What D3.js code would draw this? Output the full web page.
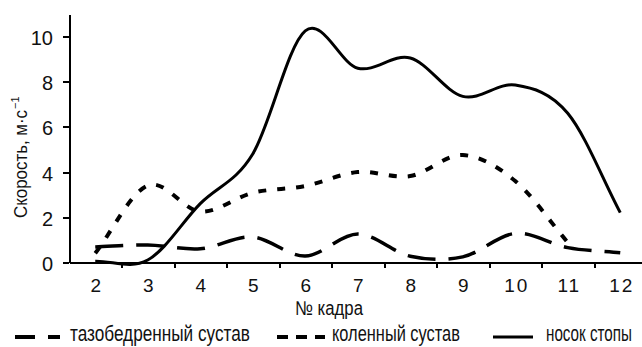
<!DOCTYPE html>
<meta charset="utf-8">
<style>
body {
  margin: 0;
  background-color: #fff;
}

.axis path, .axis line {
  stroke: #000;
  stroke-width: 2;
  shape-rendering: crispEdges;
}

.tick text {
  font: 400 20px "Liberation Sans", Arial, sans-serif;
  fill: #111;
}

.label {
  font-family: "Liberation Sans Narrow", "Liberation Sans", Arial, sans-serif;
  fill: #111;
}

.series {
  fill: none;
  stroke: #000;
}
</style>
<body>
<div id="chart"></div>
<script src="https://d3js.org/d3.v7.min.js"></script>
<script>

// frame numbers (x categories)
var frames = [2, 3, 4, 5, 6, 7, 8, 9, 10, 11, 12];
var yTicks = [0, 2, 4, 6, 8, 10];

// speed, m/s
var hip  = [0.68, 0.77, 0.6, 1.12, 0.28, 1.25, 0.27, 0.24, 1.28, 0.65, 0.42];
var knee = [0.4, 3.4, 2.25, 3.08, 3.38, 4.0, 3.82, 4.75, 3.6, 0.88];
var toe  = [0.05, 0.1, 2.6, 4.8, 10.25, 8.6, 9.05, 7.35, 7.85, 6.6, 2.2];

var seriesNames = ["тазобедренный сустав", "коленный сустав", "носок стопы"];

var width = 642,
    height = 347;

var svg = d3.select("#chart")
    .append("svg")
    .attr("width", width)
    .attr("height", height);

// bands are 52.5px wide, the last one runs off the picture
var x = d3.scaleLinear()
    .domain([1.5, 12.5])
    .range([69, 646.5]);

var y = d3.scaleLinear()
    .domain([0, 11])
    .range([262.3, 14]);

// smoothed line like the spreadsheet one (catmull-rom, end tangent = first chord)
function smoothPath(values) {
  var pts = values.map(function(v, i) { return [x(frames[i]), y(v)]; });
  var n = pts.length;
  var m = pts.map(function(p, i) {
    if (i === 0) return [pts[1][0] - p[0], pts[1][1] - p[1]];
    if (i === n - 1) return [p[0] - pts[n - 2][0], p[1] - pts[n - 2][1]];
    return [(pts[i + 1][0] - pts[i - 1][0]) / 2, (pts[i + 1][1] - pts[i - 1][1]) / 2];
  });
  var path = d3.path();
  path.moveTo(pts[0][0], pts[0][1]);
  for (var i = 0; i < n - 1; i++) {
    path.bezierCurveTo(
      pts[i][0] + m[i][0] / 3, pts[i][1] + m[i][1] / 3,
      pts[i + 1][0] - m[i + 1][0] / 3, pts[i + 1][1] - m[i + 1][1] / 3,
      pts[i + 1][0], pts[i + 1][1]);
  }
  return path.toString();
}

var styles = [
  {data: hip,  width: 3.5, dash: "28,13"},
  {data: knee, width: 4,   dash: "8,11"},
  {data: toe,  width: 3,   dash: null}
];

// axes
var yAxis = svg.append("g")
    .attr("class", "axis")
    .attr("transform", "translate(69,0)")
    .call(d3.axisLeft(y).tickValues(yTicks).tickSize(6).tickSizeOuter(0).tickPadding(10));
yAxis.selectAll("text").attr("dy", "0.4em");

svg.append("g")
    .attr("class", "axis")
    .attr("transform", "translate(0," + y(0) + ")")
    .call(d3.axisBottom(x)
      .tickValues(frames.slice(0, -1).map(function(d) { return d + 0.5; }))
      .tickFormat("")
      .tickSize(6)
      .tickSizeOuter(0));

var xLabels = svg.append("g")
    .attr("transform", "translate(0," + y(0) + ")")
    .call(d3.axisBottom(x).tickValues(frames).tickSize(0).tickFormat(d3.format("d")));
xLabels.select(".domain").remove();
xLabels.selectAll("text")
    .attr("y", 30)
    .attr("dy", 0)
    .attr("dx", 1)
    .style("font-size", "19px")
    .style("letter-spacing", "2px");

// series
svg.selectAll(".series")
    .data(styles)
    .enter().append("path")
    .attr("class", "series")
    .attr("d", function(d) { return smoothPath(d.data); })
    .attr("stroke-width", function(d) { return d.width; })
    .attr("stroke-dasharray", function(d) { return d.dash; });

// axis titles
svg.append("text")
    .attr("class", "label")
    .attr("transform", "translate(27,218) rotate(-90)")
    .attr("font-size", 18)
    .attr("textLength", 108)
    .attr("lengthAdjust", "spacingAndGlyphs")
    .text("Скорость, м·с");

svg.append("text")
    .attr("class", "label")
    .attr("transform", "translate(18.5,109) rotate(-90)")
    .attr("font-size", 11)
    .text("−1");

svg.append("text")
    .attr("class", "label")
    .attr("x", 295)
    .attr("y", 315)
    .attr("font-size", 20)
    .attr("textLength", 68)
    .attr("lengthAdjust", "spacingAndGlyphs")
    .text("№ кадра");

// legend
var legend = [
  {x1: 15,  x2: 60,  tx: 70,  tl: 180},
  {x1: 277, x2: 325, tx: 332, tl: 128},
  {x1: 493, x2: 533, tx: 546, tl: 86}
];

var item = svg.selectAll(".legend")
    .data(legend)
    .enter().append("g")
    .attr("class", "legend");

item.append("line")
    .attr("x1", function(d) { return d.x1; })
    .attr("x2", function(d) { return d.x2; })
    .attr("y1", 337)
    .attr("y2", 337)
    .attr("stroke", "#000")
    .attr("stroke-width", function(d, i) { return i === 2 ? 3 : 4; })
    .attr("stroke-dasharray", function(d, i) { return i === 0 ? "20,13" : (i === 1 ? "11,8" : null); });

// squeeze each legend text to the measured width
item.append("text")
    .attr("class", "label")
    .attr("font-size", 22)
    .text(function(d, i) { return seriesNames[i]; })
    .attr("transform", function(d) {
      var len = this.getComputedTextLength();
      return "translate(" + d.tx + ",341) scale(" + (d.tl / len) + ",1)";
    });

</script>
</body>
</html>
